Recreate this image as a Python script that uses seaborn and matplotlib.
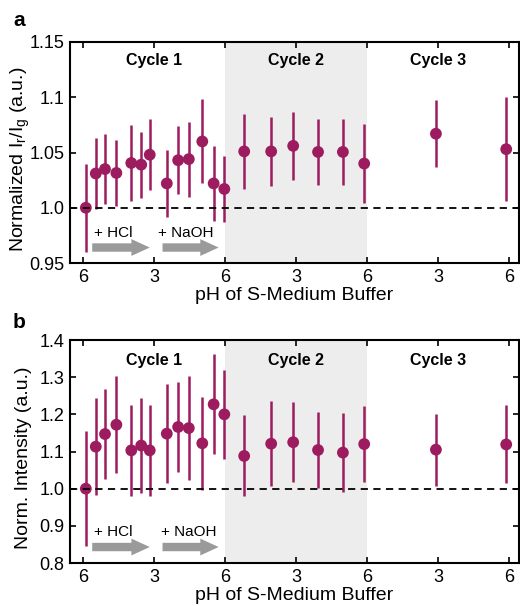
import numpy as np
import pandas as pd
import matplotlib
matplotlib.use("Agg")
import matplotlib.pyplot as plt
import seaborn as sns

# DATA
pos = [0.04, 0.18, 0.31, 0.47, 0.68, 0.82, 0.94, 1.18, 1.34, 1.49, 1.68,
       1.84, 1.99, 2.27, 2.65, 2.96, 3.31, 3.66, 3.96, 4.97, 5.96]

ratio = [1.000, 1.031, 1.035, 1.0315, 1.0405, 1.039, 1.048, 1.022, 1.043, 1.044, 1.060,
         1.022, 1.017, 1.051, 1.051, 1.056, 1.0505, 1.0505, 1.040, 1.067, 1.053]
ratio_err = [0.040, 0.032, 0.032, 0.030, 0.034, 0.030, 0.032, 0.030, 0.031, 0.034, 0.038,
             0.034, 0.030, 0.034, 0.031, 0.031, 0.030, 0.030, 0.0355, 0.0305, 0.047]

intensity = [1.000, 1.113, 1.147, 1.172, 1.103, 1.116, 1.103, 1.148, 1.166, 1.163, 1.122,
             1.227, 1.200, 1.088, 1.121, 1.125, 1.104, 1.097, 1.120, 1.105, 1.119]
intensity_err = [0.154, 0.130, 0.122, 0.131, 0.122, 0.129, 0.123, 0.133, 0.122, 0.141, 0.125,
                 0.134, 0.120, 0.109, 0.115, 0.107, 0.103, 0.107, 0.102, 0.097, 0.105]

ph_ticks = [0, 1, 2, 3, 4, 5, 6]
ph_labels = ["6", "3", "6", "3", "6", "3", "6"]
cycles = ["Cycle 1", "Cycle 2", "Cycle 3"]
cycle_pos = [1, 3, 5]

yt_a = [0.95, 1.0, 1.05, 1.1, 1.15]
yl_a = ["0.95", "1.0", "1.05", "1.1", "1.15"]
yt_b = [0.8, 0.9, 1.0, 1.1, 1.2, 1.3, 1.4]
yl_b = ["0.8", "0.9", "1.0", "1.1", "1.2", "1.3", "1.4"]

df = pd.DataFrame({"pos": pos, "ratio": ratio, "ratio_err": ratio_err,
                   "intensity": intensity, "intensity_err": intensity_err})

sns.set_style("ticks")
plt.rcParams['font.family'] = ['Liberation Sans', 'DejaVu Sans']
plt.rcParams['mathtext.default'] = 'regular'
for k in ["text.color", "axes.labelcolor", "xtick.color", "ytick.color", "axes.edgecolor"]:
    plt.rcParams[k] = "black"

col = "#9c1c5f"

fig = plt.figure(figsize=(5.2, 6.06), dpi=100)
ax1 = fig.add_axes([70/520, 1-263/606, 449/520, 221/606])
ax2 = fig.add_axes([70/520, 1-563/606, 449/520, 223/606])


def panel(ax, ycol, ecol, ylim, yt, yl, ylabel, arrow_y, text_y, naoh_x, cyc_y):
    ax.axvspan(2, 4, color="#ededed", lw=0, zorder=0)
    ax.axhline(1.0, color="black", ls=(0, (4, 3)), lw=1.3, zorder=4)
    ax.errorbar(df["pos"], df[ycol], yerr=df[ecol], fmt="none", ecolor=col,
                elinewidth=1.8, capsize=0, zorder=2)
    sns.scatterplot(data=df, x="pos", y=ycol, ax=ax, color=col, s=72,
                    edgecolor="none", zorder=3, legend=False)
    ax.set_xlim(-0.183, 6.14)
    ax.set_ylim(*ylim)
    ax.set_xticks(ph_ticks)
    ax.set_xticklabels(ph_labels)
    ax.set_yticks(yt)
    ax.set_yticklabels(yl)
    ax.tick_params(direction="in", top=True, right=True, labelsize=13,
                   length=4, width=1.2, pad=4, colors="black")
    for s in ax.spines.values():
        s.set_linewidth(1.5)
        s.set_color("black")
    ax.set_xlabel("pH of S-Medium Buffer", fontsize=14, labelpad=1)
    ax.set_ylabel(ylabel, fontsize=14)
    ax.yaxis.set_label_coords(-0.085, 0.47)
    for name, cx in zip(cycles, cycle_pos):
        ax.text(cx, cyc_y, name, ha="center", va="center", fontsize=11.5,
                fontweight="bold")
    ax.text(0.15, text_y, "+ HCl", ha="left", va="center", fontsize=11)
    ax.text(naoh_x, text_y, "+ NaOH", ha="left", va="center", fontsize=11)
    for x0, x1 in [(0.13, 0.94), (1.12, 1.91)]:
        ax.annotate("", xy=(x1, arrow_y), xytext=(x0, arrow_y),
                    arrowprops=dict(arrowstyle="simple,head_length=1.2,head_width=1.1,tail_width=0.55",
                                    color="#9a9a9a", mutation_scale=11,
                                    shrinkA=0, shrinkB=0, lw=0))


panel(ax1, "ratio", "ratio_err", (0.95, 1.15), yt_a, yl_a,
      "Normalized I$_r$/I$_g$ (a.u.)", 0.964, 0.977, 1.05, 1.133)
panel(ax2, "intensity", "intensity_err", (0.8, 1.4), yt_b, yl_b,
      "Norm. Intensity (a.u.)", 0.843, 0.884, 1.10, 1.344)

fig.text(13/520, 1-20/606, "a", fontsize=15, fontweight="bold", va="center", ha="left")
fig.text(13/520, 1-323/606, "b", fontsize=15, fontweight="bold", va="center", ha="left")

fig.savefig("out.png", dpi=100)
